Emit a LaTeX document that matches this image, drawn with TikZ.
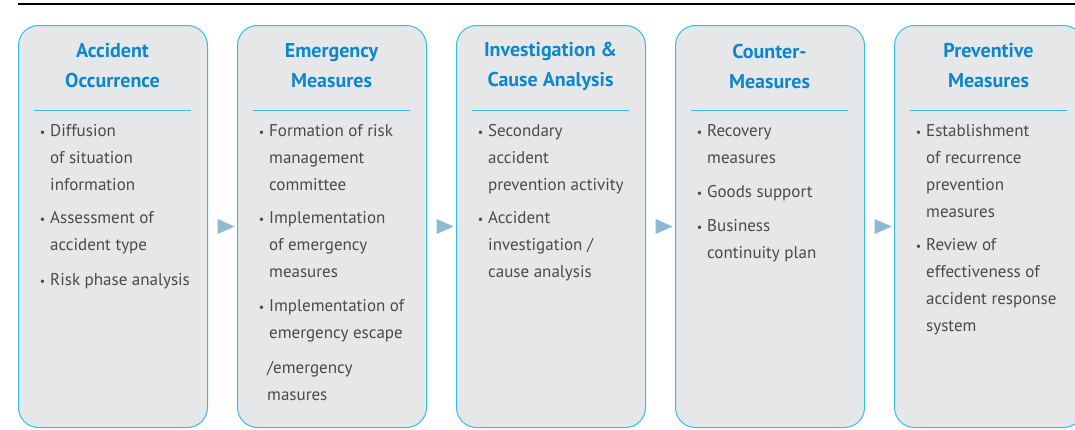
\documentclass[tikz,border=0pt]{standalone}
\usepackage{fontspec}
\setmainfont{PT Sans}
\usetikzlibrary{shapes.geometric}
\definecolor{phasefill}{HTML}{E6E7E8}
\definecolor{phaseline}{HTML}{33BCEC}
\definecolor{phasehead}{HTML}{0D87CC}
\definecolor{itemtext}{HTML}{4A4A4C}
\definecolor{nextfill}{HTML}{8DBAD3}
\newcommand{\bul}{\llap{{\fontsize{12}{12}\selectfont\textbullet}\hspace{5pt}}}

\begin{document}
\begin{tikzpicture}[x=1pt, y=-1pt,
      phase/.style={draw=phaseline, fill=phasefill, line width=1pt, rounded corners=20pt,
                    minimum width=189pt, minimum height=402pt, inner sep=0pt, anchor=north west},
      head/.style={font=\bfseries\fontsize{20}{30}\selectfont, text=phasehead, align=center},
      rule/.style={draw=phaseline, line width=1pt},
      item/.style={font=\fontsize{17}{27}\selectfont, text=itemtext, align=left,
                   anchor=north west, inner sep=0pt},
      next/.style={isosceles triangle, isosceles triangle stretches, fill=nextfill,
                   minimum width=15pt, minimum height=17pt, inner sep=0pt}]
    \useasboundingbox (0,0) rectangle (1075,429);
    \clip (0,0) rectangle (1075,429);
    % top rule
    \coordinate (topl) at (18,4.3);
    \coordinate (topr) at (1075,4.3);
    \draw[line width=2.3pt] (topl) -- (topr);
    % the five phases
    \node[phase] (occur) at (18,25) {};
    \node[phase] (emerg) at (237,25) {};
    \node[phase] (invest) at (456,25) {};
    \node[phase] (counter) at (675,25) {};
    \node[phase] (prevent) at (894,25) {};
    \node[head] (occurh) at (112.5,66) {Accident\\Occurrence};
    \node[head] (emergh) at (331.5,66) {Emergency\\Measures};
    \node[head] (investh) at (550.5,66) {Investigation \&\\Cause Analysis};
    \node[head] (counterh) at (769.5,66) {Counter-\\Measures};
    \node[head] (preventh) at (988.5,66) {Preventive\\Measures};
    \draw[rule] (occur.north west) ++(16,85) -- ++(157,0);
    \draw[rule] (emerg.north west) ++(16,85) -- ++(157,0);
    \draw[rule] (invest.north west) ++(16,85) -- ++(157,0);
    \draw[rule] (counter.north west) ++(16,85) -- ++(157,0);
    \draw[rule] (prevent.north west) ++(16,85) -- ++(157,0);
    % items
    \node[item] (occur1) at (50,124) {\bul Diffusion\\of situation\\information};
    \node[item] (occur2) at (50,211) {\bul Assessment of\\accident type};
    \node[item] (occur3) at (50,273) {\bul Risk phase analysis};
    \node[item] (emerg1) at (269,124) {\bul Formation of risk\\management\\committee};
    \node[item] (emerg2) at (269,211) {\bul Implementation\\of emergency\\measures};
    \node[item] (emerg3) at (269,299) {\bul Implementation of\\emergency escape};
    \node[item] (emerg4) at (267,361) {/emergency\\masures};
    \node[item] (invest1) at (488,124) {\bul Secondary\\accident\\prevention activity};
    \node[item] (invest2) at (488,211) {\bul Accident\\investigation /\\cause analysis};
    \node[item] (counter1) at (707,124) {\bul Recovery\\measures};
    \node[item] (counter2) at (707,185) {\bul Goods support};
    \node[item] (counter3) at (707,219) {\bul Business\\continuity plan};
    \node[item] (prevent1) at (926,124) {\bul Establishment\\of recurrence\\prevention\\measures};
    \node[item] (prevent2) at (926,238) {\bul Review of\\effectiveness of\\accident response\\system};
    % arrows between phases
    \node[next] (next1) at (222.5,226.5) {};
    \node[next] (next2) at (441.5,226.5) {};
    \node[next] (next3) at (660.5,226.5) {};
    \node[next] (next4) at (879.5,226.5) {};
\end{tikzpicture}
\end{document}
